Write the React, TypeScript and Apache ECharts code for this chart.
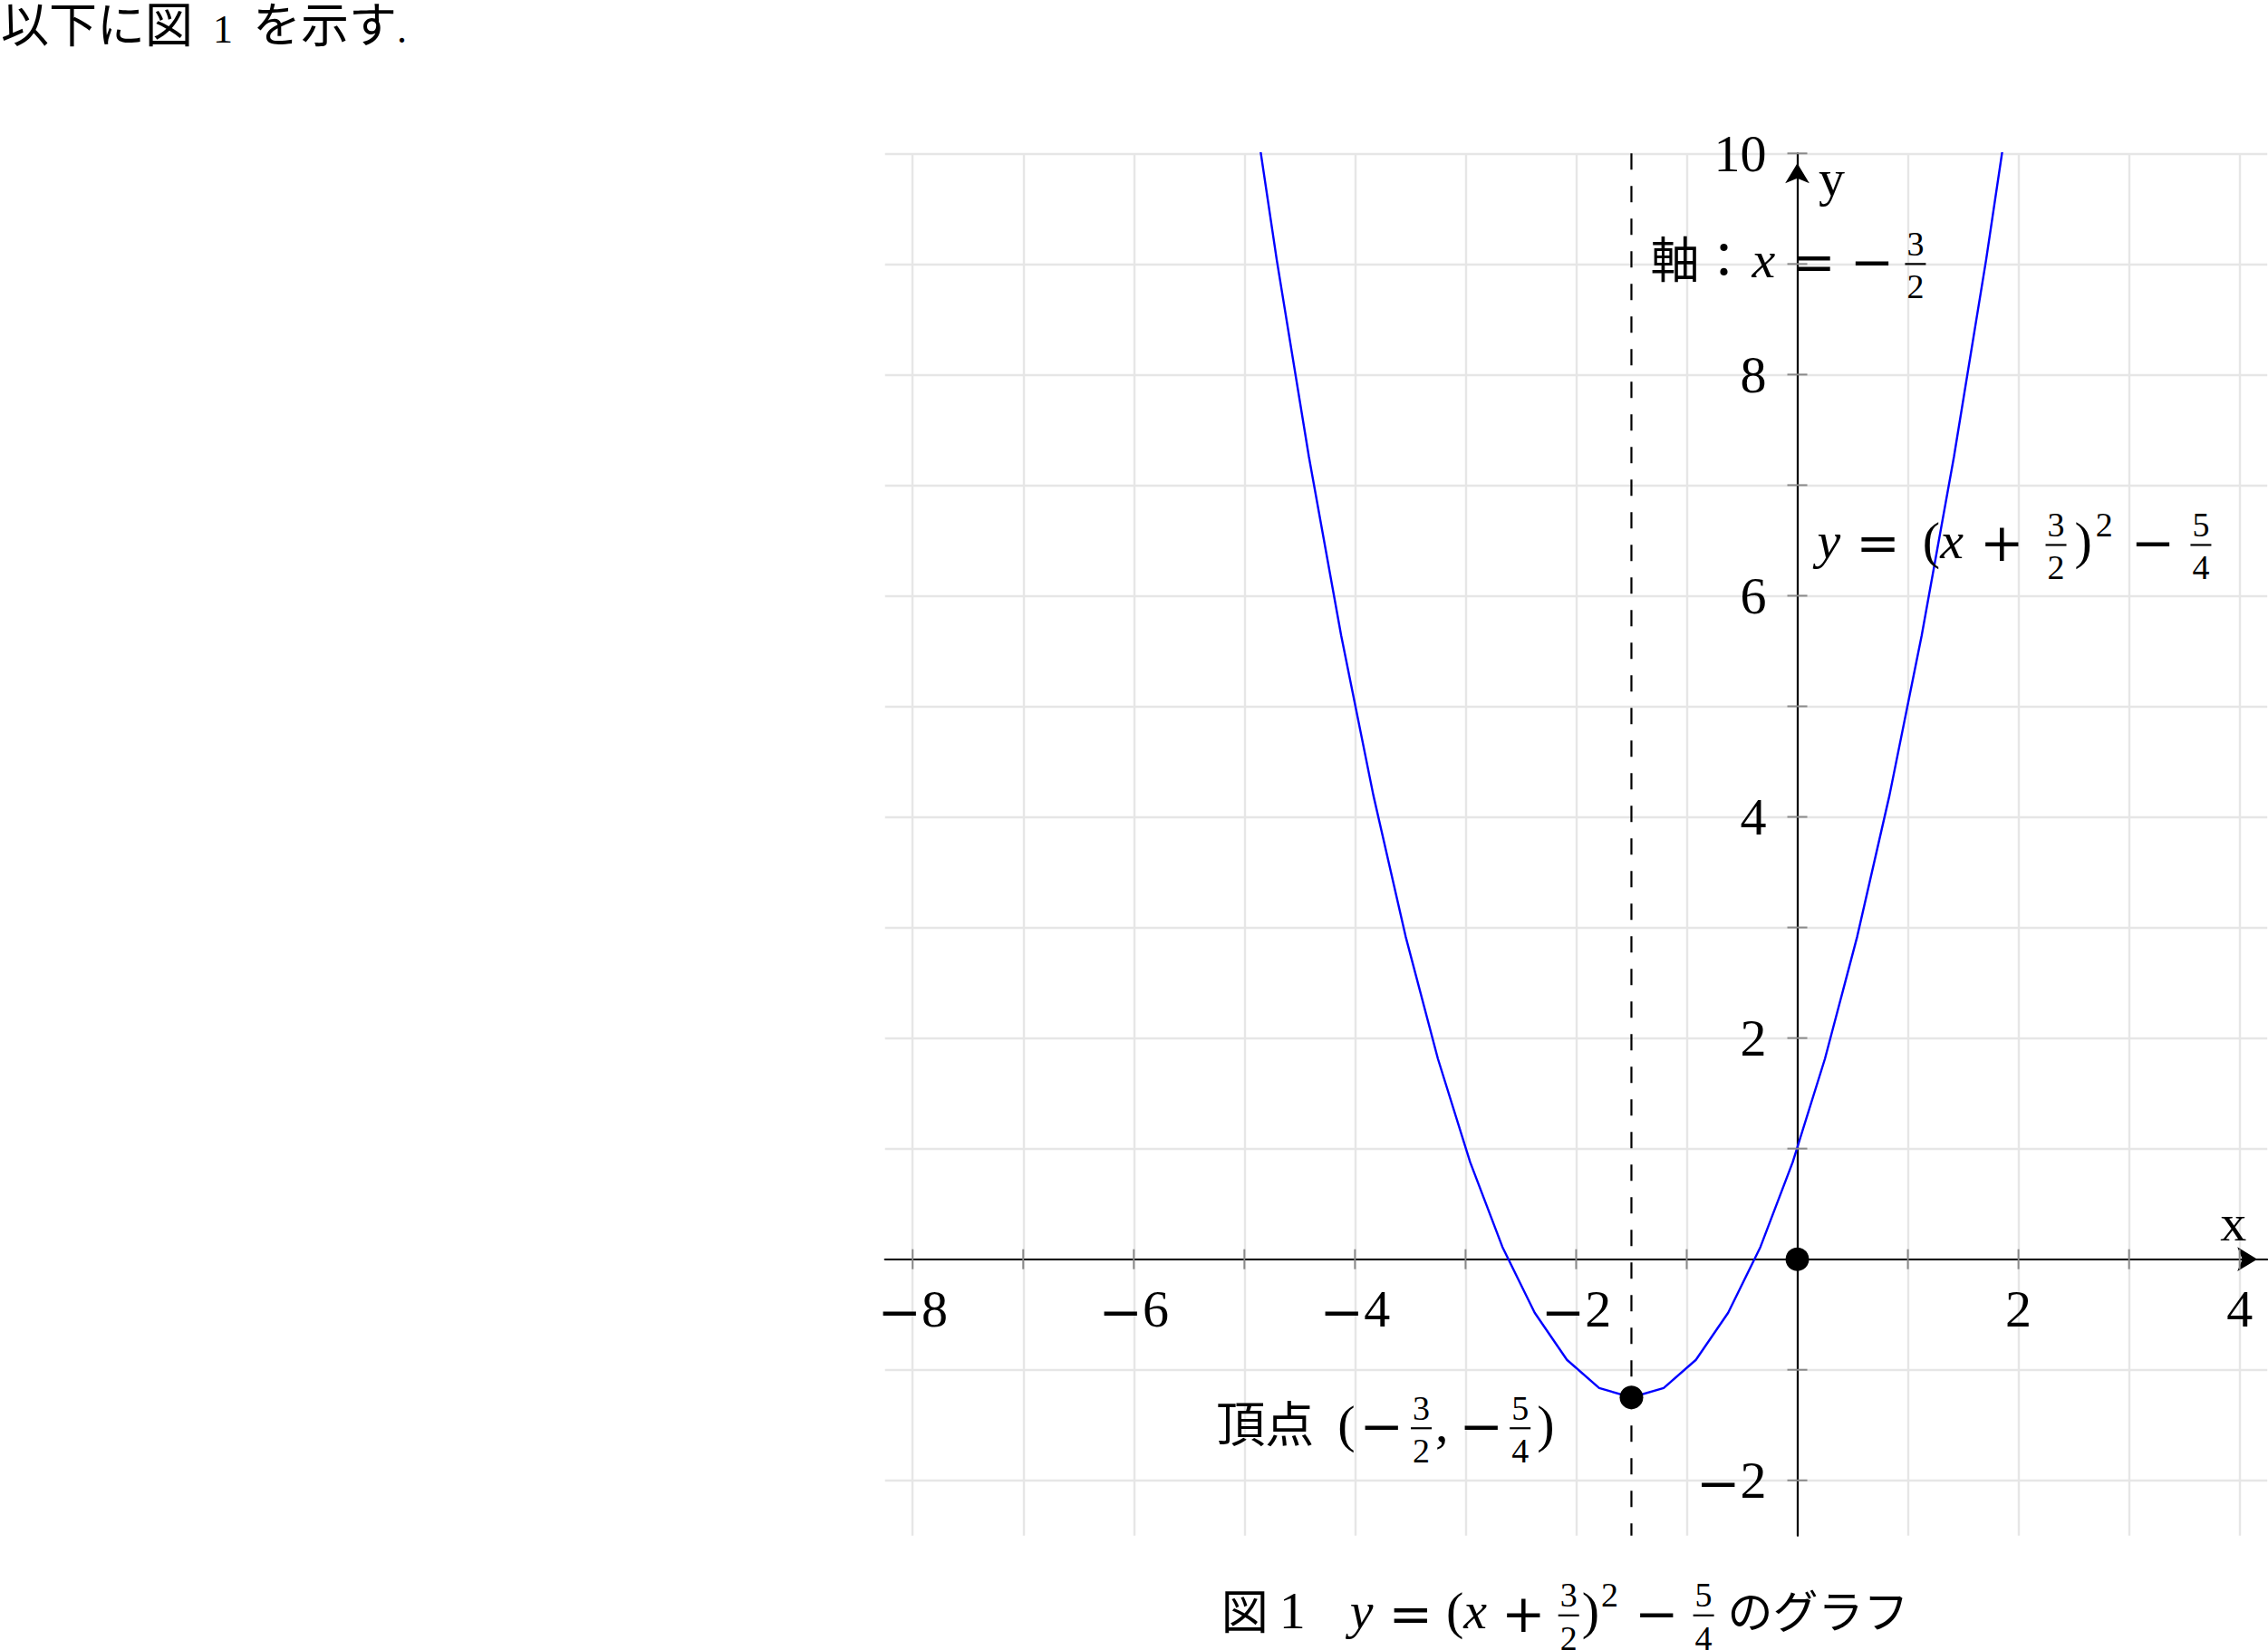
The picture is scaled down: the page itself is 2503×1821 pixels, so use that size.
import React, { useEffect, useRef } from 'react';
import * as echarts from 'echarts';

const W = 2503;
const H = 1821;

// ---- data ----
const curveX = [-5, -4.7083, -4.4167, -4.125, -3.8333, -3.5417, -3.25, -2.9583, -2.6667, -2.375, -2.0833, -1.7917, -1.5, -1.2083, -0.9167, -0.625, -0.3333, -0.0417, 0.25, 0.5417, 0.8333, 1.125, 1.4167, 1.7083, 2];
const curveY = [11, 9.043, 7.257, 5.641, 4.194, 2.918, 1.8125, 0.877, 0.111, -0.484, -0.91, -1.165, -1.25, -1.165, -0.91, -0.484, 0.111, 0.877, 1.8125, 2.918, 4.194, 5.641, 7.257, 9.043, 11];
const vertexPoint = [-1.5, -1.25];
const originPoint = [0, 0];
const symmetryAxisX = -1.5;
const xRange = [-8.25, 4.25];
const yRange = [-2.5, 10];
const xGridValues = [-8, -7, -6, -5, -4, -3, -2, -1, 0, 1, 2, 3, 4];
const yGridValues = [-2, -1, 0, 1, 2, 3, 4, 5, 6, 7, 8, 9, 10];
const xTickMarks = [-8, -7, -6, -5, -4, -3, -2, -1, 1, 2, 3, 4];
const yTickMarks = [-2, -1, 1, 2, 3, 4, 5, 6, 7, 8, 9, 10];
const xTickLabels = [-8, -6, -4, -2, 2, 4];
const yTickLabels = [-2, 2, 4, 6, 8, 10];

// ---- fonts ----
const FONT_RM = 'Liberation Serif';
const FONT_OP = 'DejaVu Serif';
const FONT_CJK = 'Noto Sans CJK JP';
const MS = 58; // main math size

type Tok =
  | { k: 't'; t: string; f: 'rm' | 'it' | 'op' | 'cjk'; s?: number; dy?: number }
  | { k: 'frac'; n: string; d: string }
  | { k: 'sup'; t: string }
  | { k: 'sp'; w: number };

let mctx: CanvasRenderingContext2D | null = null;
function measure(text: string, family: string, style: string, size: number) {
  if (!mctx) mctx = document.createElement('canvas').getContext('2d');
  mctx!.font = `${style} ${size}px "${family}"`;
  return mctx!.measureText(text).width;
}
function fontOf(f: string): [string, string] {
  if (f === 'it') return [FONT_RM, 'italic'];
  if (f === 'op') return [FONT_OP, 'normal'];
  if (f === 'cjk') return [FONT_CJK, 'normal'];
  return [FONT_RM, 'normal'];
}
function yOff(f: string, s: number) {
  if (f === 'op') return -2;
  if (f === 'cjk') return -0.15 * s;
  return -0.0875 * s;
}
function textEl(text: string, x: number, y: number, family: string, style: string, size: number, align = 'left') {
  return {
    type: 'text',
    x,
    y,
    silent: true,
    z: 100,
    style: {
      text,
      fontFamily: family,
      fontStyle: style,
      fontSize: size,
      lineHeight: Math.round(size * 0.8),
      fill: '#000',
      textAlign: align,
      textVerticalAlign: 'middle',
      align,
      verticalAlign: 'middle',
    },
  };
}
function layout(tokens: Tok[], x0: number, axisY: number, align: 'left' | 'right' | 'center' = 'left') {
  const els: any[] = [];
  let x = 0;
  const ss = Math.round(MS * 0.655);
  for (const tk of tokens) {
    if (tk.k === 'sp') {
      x += tk.w;
    } else if (tk.k === 't') {
      const s = tk.s || MS;
      const [fam, st] = fontOf(tk.f);
      els.push(textEl(tk.t, x, axisY + yOff(tk.f, s) + (tk.dy || 0), fam, st, s));
      x += measure(tk.t, fam, st, s);
    } else if (tk.k === 'frac') {
      const wn = measure(tk.n, FONT_RM, 'normal', ss);
      const wd = measure(tk.d, FONT_RM, 'normal', ss);
      const bw = Math.max(wn, wd) + 4;
      x += 3;
      const cx = x + bw / 2;
      els.push(textEl(tk.n, cx, axisY - 0.39 * MS, FONT_RM, 'normal', ss, 'center'));
      els.push(textEl(tk.d, cx, axisY + 0.43 * MS, FONT_RM, 'normal', ss, 'center'));
      els.push({
        type: 'line',
        x,
        y: axisY,
        silent: true,
        z: 100,
        shape: { x1: 0, y1: 0, x2: bw, y2: 0 },
        style: { stroke: '#000', lineWidth: 2.2 },
      });
      x += bw + 3;
    } else if (tk.k === 'sup') {
      els.push(textEl(tk.t, x, axisY - 0.39 * MS, FONT_RM, 'normal', ss));
      x += measure(tk.t, FONT_RM, 'normal', ss);
    }
  }
  const shift = align === 'right' ? x0 - x : align === 'center' ? x0 - x / 2 : x0;
  for (const e of els) e.x += shift;
  return els;
}

function numberTokens(v: number): Tok[] {
  return v < 0
    ? [
        { k: 't', t: '−', f: 'op' },
        { k: 't', t: String(-v), f: 'rm' },
      ]
    : [{ k: 't', t: String(v), f: 'rm' }];
}

export default function App() {
  const ref = useRef<HTMLDivElement>(null);
  useEffect(() => {
    document.body.style.margin = '0';
    const el = ref.current!;
    const chart = echarts.init(el, null, { renderer: 'svg', width: W, height: H });
    const gridLeft = 976.7;
    const gridTop = 169.3;
    const gridSize = 1525.5;
    const axisCommon = {
      type: 'value',
      axisLine: {
        onZero: true,
        lineStyle: { color: '#000', width: 2.2 },
        symbol: ['none', 'arrow'],
        symbolSize: [20, 22],
        symbolOffset: [0, -11],
      },
      axisTick: { show: false },
      splitLine: { show: false },
      axisLabel: { show: false },
    };
    const option: any = {
      animation: false,
      backgroundColor: '#ffffff',
      grid: { left: gridLeft, top: gridTop, width: gridSize, height: gridSize, containLabel: false, outerBoundsMode: 'none' },
      xAxis: { ...axisCommon, min: xRange[0], max: xRange[1] },
      yAxis: { ...axisCommon, min: yRange[0], max: yRange[1] },
      series: [
        {
          type: 'line',
          data: [],
          silent: true,
          z: -1,
          markLine: {
            silent: true,
            z: -1,
            symbol: ['none', 'none'],
            label: { show: false },
            emphasis: { disabled: true },
            lineStyle: { color: '#e6e6e6', width: 2.4, type: 'solid' },
            data: [...xGridValues.map((v) => ({ xAxis: v })), ...yGridValues.map((v) => ({ yAxis: v }))],
          },
        },
        {
          type: 'line',
          data: [
            [symmetryAxisX, yRange[1]],
            [symmetryAxisX, yRange[0]],
          ],
          showSymbol: false,
          silent: true,
          z: 2,
          lineStyle: { color: '#000', width: 2.2, type: [18, 18] },
        },
        {
          type: 'line',
          data: curveX.map((x, i) => [x, curveY[i]]),
          showSymbol: false,
          silent: true,
          clip: true,
          z: 3,
          lineStyle: { color: '#0000ff', width: 2.4 },
        },
        {
          type: 'scatter',
          data: xTickMarks.map((v) => [v, 0]),
          symbol: 'rect',
          symbolSize: [2, 22],
          silent: true,
          clip: false,
          z: 4,
          itemStyle: { color: '#8a8a8a', opacity: 1 },
        },
        {
          type: 'scatter',
          data: yTickMarks.map((v) => [0, v]),
          symbol: 'rect',
          symbolSize: [22, 2],
          silent: true,
          clip: false,
          z: 4,
          itemStyle: { color: '#8a8a8a', opacity: 1 },
        },
        {
          type: 'scatter',
          data: [vertexPoint, originPoint],
          symbol: 'circle',
          symbolSize: 26,
          silent: true,
          clip: false,
          z: 5,
          itemStyle: { color: '#000', opacity: 1 },
        },
      ],
    };
    chart.setOption(option);

    const px = (x: number, y: number) => chart.convertToPixel({ gridIndex: 0 }, [x, y]) as number[];

    const els: any[] = [];

    // tick labels
    for (const v of xTickLabels) {
      const p = px(v, 0);
      els.push(...layout(numberTokens(v), p[0], p[1] + 60, 'center'));
    }
    for (const v of yTickLabels) {
      const p = px(0, v);
      els.push(...layout(numberTokens(v), p[0] - 34, p[1] + 5, 'right'));
    }

    // axis names
    const xEnd = px(4, 0);
    els.push(textEl('x', xEnd[0] - 7, xEnd[1] - 40, FONT_RM, 'normal', MS, 'center'));
    const yEnd = px(0, 10);
    els.push(textEl('y', yEnd[0] + 38, yEnd[1] + 27, FONT_RM, 'normal', MS, 'center'));

    // 軸 label
    const aA = px(symmetryAxisX, 9);
    els.push(
      ...layout(
        [
          { k: 't', t: '軸', f: 'cjk', s: 54 },
          { k: 't', t: '：', f: 'cjk', s: 54 },
          { k: 'sp', w: 4 },
          { k: 't', t: 'x', f: 'it' },
          { k: 'sp', w: 18 },
          { k: 't', t: '=', f: 'op' },
          { k: 'sp', w: 16 },
          { k: 't', t: '−', f: 'op' },
          { k: 'sp', w: 9 },
          { k: 'frac', n: '3', d: '2' },
        ],
        aA[0] + 21,
        aA[1]
      )
    );

    // formula label
    const aB = px(0, 6.5);
    els.push(
      ...layout(
        [
          { k: 't', t: 'y', f: 'it' },
          { k: 'sp', w: 17 },
          { k: 't', t: '=', f: 'op' },
          { k: 'sp', w: 25 },
          { k: 't', t: '(', f: 'rm' },
          { k: 't', t: 'x', f: 'it' },
          { k: 'sp', w: 18 },
          { k: 't', t: '+', f: 'op' },
          { k: 'sp', w: 21 },
          { k: 'frac', n: '3', d: '2' },
          { k: 'sp', w: 6 },
          { k: 't', t: ')', f: 'rm' },
          { k: 'sp', w: 4 },
          { k: 'sup', t: '2' },
          { k: 'sp', w: 20 },
          { k: 't', t: '−', f: 'op' },
          { k: 'sp', w: 14 },
          { k: 'frac', n: '5', d: '4' },
        ],
        aB[0] + 22,
        aB[1] + 5
      )
    );

    // vertex label
    const aC = px(vertexPoint[0], vertexPoint[1]);
    els.push(
      ...layout(
        [
          { k: 't', t: '頂点', f: 'cjk', s: 54 },
          { k: 'sp', w: 26 },
          { k: 't', t: '(', f: 'rm' },
          { k: 'sp', w: 5 },
          { k: 't', t: '−', f: 'op' },
          { k: 'sp', w: 5 },
          { k: 'frac', n: '3', d: '2' },
          { k: 'sp', w: 1 },
          { k: 't', t: ',', f: 'rm' },
          { k: 'sp', w: 12 },
          { k: 't', t: '−', f: 'op' },
          { k: 'sp', w: 4 },
          { k: 'frac', n: '5', d: '4' },
          { k: 'sp', w: 4 },
          { k: 't', t: ')', f: 'rm' },
        ],
        aC[0] - 85,
        aC[1] + 34,
        'right'
      )
    );

    // caption
    const bottomLeft = px(xRange[0], yRange[0]);
    els.push(
      ...layout(
        [
          { k: 't', t: '図', f: 'cjk', s: 52 },
          { k: 'sp', w: 12 },
          { k: 't', t: '1', f: 'rm' },
          { k: 'sp', w: 49 },
          { k: 't', t: 'y', f: 'it' },
          { k: 'sp', w: 17 },
          { k: 't', t: '=', f: 'op' },
          { k: 'sp', w: 15 },
          { k: 't', t: '(', f: 'rm' },
          { k: 't', t: 'x', f: 'it' },
          { k: 'sp', w: 16 },
          { k: 't', t: '+', f: 'op' },
          { k: 'sp', w: 11 },
          { k: 'frac', n: '3', d: '2' },
          { k: 't', t: ')', f: 'rm' },
          { k: 'sp', w: 2 },
          { k: 'sup', t: '2' },
          { k: 'sp', w: 18 },
          { k: 't', t: '−', f: 'op' },
          { k: 'sp', w: 13 },
          { k: 'frac', n: '5', d: '4' },
          { k: 'sp', w: 12 },
          { k: 't', t: 'のグラフ', f: 'cjk', s: 50 },
        ],
        bottomLeft[0] + 371,
        bottomLeft[1] + 88
      )
    );

    // top sentence
    els.push(
      ...layout(
        [
          { k: 't', t: '以下に図', f: 'cjk', s: 53, dy: -6.5 },
          { k: 'sp', w: 22 },
          { k: 't', t: '1', f: 'rm', s: 44, dy: -2 },
          { k: 'sp', w: 22 },
          { k: 't', t: 'を示す', f: 'cjk', s: 53, dy: -6.5 },
          { k: 't', t: '.', f: 'rm', s: 44, dy: -2 },
        ],
        1,
        38
      )
    );

    chart.setOption({ graphic: { elements: els } });
    return () => chart.dispose();
  }, []);
  return <div ref={ref} style={{ width: W, height: H }} />;
}
